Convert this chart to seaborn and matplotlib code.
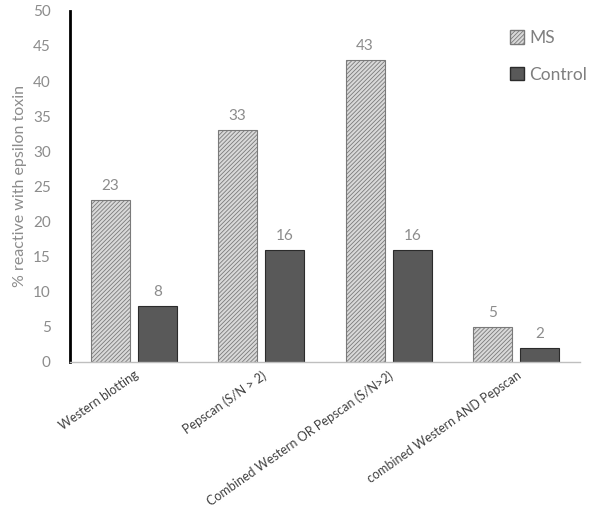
import numpy as np
import pandas as pd
import matplotlib
matplotlib.use("Agg")
import matplotlib.pyplot as plt
import seaborn as sns
from matplotlib.patches import Patch

# Values
categories = ["Western blotting", "Pepscan (S/N > 2)",
              "Combined Western OR Pepscan (S/N>2)", "combined Western AND Pepscan"]
ms_values = [23, 33, 43, 5]
control_values = [8, 16, 16, 2]
groups = ["MS", "Control"]

df = pd.DataFrame({
    "category": categories * 2,
    "group": [groups[0]] * 4 + [groups[1]] * 4,
    "value": ms_values + control_values,
})

sns.set_style("white")
plt.rcParams["font.family"] = ["Lato", "DejaVu Sans"]
plt.rcParams["hatch.linewidth"] = 0.6
plt.rcParams["hatch.color"] = "#7a7a7a"

grey_text = "#8c8c8c"

fig = plt.figure(figsize=(6.04, 5.17), dpi=100)
ax = fig.add_axes([0.116, 0.300, 0.844, 0.679])

sns.barplot(data=df, x="category", y="value", hue="group",
            palette={"MS": "#d9d9d9", "Control": "#595959"},
            width=0.74, gap=0.17, ax=ax, legend=False)

# style bars: hatch for MS, dark edges
for i, bar in enumerate(ax.patches[:8]):
    if i < 4:
        bar.set_hatch("////////")
        bar.set_edgecolor("#7a7a7a")
        bar.set_linewidth(0.8)
    else:
        bar.set_edgecolor("#2b2b2b")
        bar.set_linewidth(0.8)

for cont in ax.containers:
    ax.bar_label(cont, padding=5, color=grey_text, fontsize=11)

ax.set_ylim(0, 50)
ax.set_yticks(np.arange(0, 51, 5))
ax.set_xlabel("")
ax.set_ylabel("% reactive with epsilon toxin", color=grey_text, fontsize=11.5)
ax.tick_params(axis="y", colors=grey_text, labelsize=11, length=0, pad=14)
ax.set_xticks(range(len(categories)))
ax.set_xticklabels(categories, rotation=35, ha="right", rotation_mode="anchor",
                   fontsize=9, color="#404040")
ax.tick_params(axis="x", length=0, pad=5)

sns.despine(ax=ax, top=True, right=True)
ax.spines["left"].set_color("black")
ax.spines["left"].set_linewidth(2)
ax.spines["bottom"].set_color("#bfbfbf")
ax.spines["bottom"].set_linewidth(1)

handles = [Patch(facecolor="#d9d9d9", edgecolor="#7a7a7a", hatch="////////", label="MS"),
           Patch(facecolor="#595959", edgecolor="#2b2b2b", label="Control")]
leg = ax.legend(handles=handles, loc="upper right", bbox_to_anchor=(1.045, 0.99),
                frameon=False, fontsize=12.5, handlelength=0.8, handleheight=0.8,
                handletextpad=0.3, labelspacing=1.2)
for t in leg.get_texts():
    t.set_color("#7f7f7f")

fig.savefig("out.png", dpi=100)
